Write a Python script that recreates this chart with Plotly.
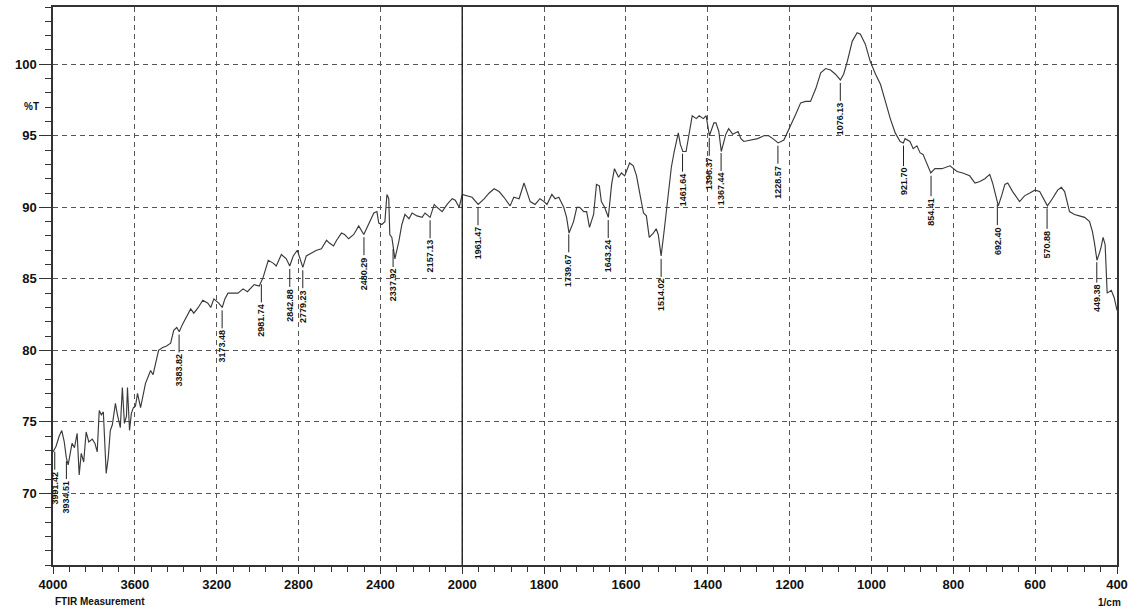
import numpy as np
import plotly.graph_objects as go

# ---- data (wavenumber 1/cm, transmittance %T) ----
wavenumber = [
    4000, 3985, 3970, 3957, 3945, 3935, 3926, 3915, 3907, 3895, 3882, 3872, 3862, 3850, 3838, 3825,
    3808, 3795, 3784, 3774, 3764, 3754, 3745, 3740, 3730, 3720, 3710, 3695, 3685, 3671, 3661, 3651,
    3641, 3636, 3626, 3617, 3607, 3597, 3587, 3572, 3548, 3535, 3523, 3511, 3499, 3484, 3464, 3445,
    3425, 3410, 3395, 3383, 3368, 3351, 3327, 3312, 3290, 3268, 3243, 3229, 3214, 3190, 3173, 3160,
    3145, 3120, 3096, 3071, 3050, 3017, 2992, 2973, 2948, 2924, 2909, 2884, 2860, 2843, 2826, 2806,
    2791, 2779, 2762, 2737, 2712, 2688, 2663, 2649, 2629, 2614, 2590, 2575, 2555, 2530, 2506, 2481,
    2457, 2432, 2417, 2408, 2393, 2378, 2368, 2359, 2354, 2344, 2338, 2329, 2310, 2295, 2280, 2260,
    2245, 2221, 2196, 2182, 2157, 2137, 2123, 2098, 2074, 2049, 2034, 2015, 2000,
    1988, 1976, 1961, 1946, 1934, 1922, 1910, 1898, 1883, 1874, 1861, 1849, 1842, 1834, 1822, 1810,
    1800, 1793, 1781, 1773, 1764, 1752, 1745, 1739, 1728, 1720, 1713, 1703, 1696, 1689, 1679, 1672,
    1665, 1660, 1652, 1643, 1635, 1628, 1618, 1611, 1603, 1591, 1582, 1574, 1567, 1557, 1550, 1543,
    1533, 1526, 1521, 1514, 1506, 1497, 1489, 1482, 1472, 1467, 1461, 1453, 1445, 1438, 1428, 1421,
    1411, 1404, 1396, 1385, 1380, 1373, 1367, 1356, 1349, 1339, 1326, 1319, 1312, 1295, 1278, 1263,
    1251, 1241, 1228, 1214, 1197, 1185, 1173, 1161, 1149, 1136, 1124, 1112, 1100, 1088, 1076, 1068,
    1059, 1047, 1035, 1027, 1015, 1003, 990, 978, 966, 954, 942, 930, 922, 918, 906, 898,
    889, 881, 874, 864, 855, 845, 828, 808, 791, 777, 760, 747, 735, 723, 711, 704,
    694, 690, 681, 674, 667, 655, 638, 626, 613, 601, 589, 577, 570, 558, 545, 536,
    528, 516, 504, 492, 479, 467, 460, 455, 449, 443, 439, 434, 429, 424, 414, 407,
    402, 400,
]
transmittance = [
    72.9, 73.3, 74.0, 74.4, 73.6, 72.5, 72.0, 72.9, 73.5, 73.2, 74.2, 71.3, 72.8, 72.2, 74.3, 73.6,
    73.8, 73.5, 72.9, 75.8, 75.5, 75.7, 73.0, 71.4, 72.5, 74.4, 74.8, 76.3, 75.5, 74.6, 77.4, 74.9,
    75.4, 77.4, 74.4, 75.6, 76.0, 76.1, 77.0, 76.0, 77.7, 78.2, 78.6, 78.3, 79.1, 80.0, 80.2, 80.3,
    80.5, 81.4, 81.6, 81.3, 81.8, 82.3, 82.9, 82.6, 83.0, 83.5, 83.3, 83.0, 83.6, 83.3, 83.0, 83.6,
    84.0, 84.0, 84.0, 84.3, 84.1, 84.6, 84.5, 85.1, 86.3, 86.1, 85.9, 86.7, 86.4, 85.9, 86.6, 87.0,
    86.4, 85.8, 86.6, 86.8, 87.0, 87.1, 87.7, 87.5, 87.3, 87.7, 88.2, 88.1, 87.8, 88.1, 88.7, 88.1,
    88.8, 89.6, 89.7, 88.9, 88.8, 89.0, 90.9, 90.6, 88.1, 87.9, 87.3, 86.4, 87.6, 88.8, 89.5, 89.2,
    89.6, 89.4, 89.3, 89.6, 89.3, 90.2, 90.0, 89.7, 90.2, 90.6, 90.5, 90.0, 90.9,
    90.8, 90.7, 90.2, 90.6, 91.0, 91.3, 91.1, 90.7, 90.1, 90.7, 90.6, 91.7, 91.1, 90.4, 90.2, 90.6,
    90.4, 90.2, 90.9, 90.6, 90.7, 90.0, 89.3, 88.2, 89.0, 90.0, 90.0, 89.7, 89.7, 88.6, 89.5, 91.6,
    91.5, 90.4, 90.0, 89.3, 91.6, 92.7, 92.1, 92.4, 92.2, 93.1, 92.9, 92.2, 91.1, 89.6, 89.4, 87.9,
    88.2, 88.5, 88.1, 86.6, 88.5, 90.7, 92.8, 93.9, 95.2, 94.4, 93.9, 93.9, 95.3, 96.4, 96.2, 96.4,
    96.2, 96.4, 95.0, 95.9, 95.9, 95.3, 93.9, 95.1, 95.5, 95.1, 95.3, 94.8, 94.6, 94.7, 94.8, 95.0,
    95.0, 94.8, 94.5, 94.7, 95.7, 96.5, 97.3, 97.4, 97.4, 98.3, 99.4, 99.7, 99.6, 99.3, 98.9, 99.3,
    100.2, 101.6, 102.2, 102.1, 101.4, 100.2, 99.3, 98.6, 97.4, 96.2, 95.2, 94.6, 94.5, 94.8, 94.6, 94.1,
    94.3, 93.8, 93.7, 93.0, 92.4, 92.7, 92.7, 92.9, 92.5, 92.4, 92.2, 91.7, 91.8, 92.0, 92.3, 91.7,
    90.6, 90.1, 90.9, 91.6, 91.7, 91.1, 90.4, 90.8, 91.0, 91.2, 91.1, 90.4, 90.1, 90.6, 91.2, 91.4,
    91.1, 89.7, 89.5, 89.4, 89.3, 89.0, 88.3, 87.5, 86.3, 86.8, 87.2, 87.9, 87.4, 84.0, 84.2, 83.7,
    83.0, 82.8,
]

peak_labels = ["3991.42", "3934.51", "3383.82", "3173.48", "2981.74", "2842.88", "2779.23",
               "2480.29", "2337.92", "2157.13", "1961.47", "1739.67", "1643.24", "1514.02",
               "1461.64", "1396.37", "1367.44", "1228.57", "1076.13", "921.70", "854.41",
               "692.40", "570.88", "449.38"]

x_tick_labels = ["4000", "3600", "3200", "2800", "2400", "2000", "1800", "1600", "1400",
                 "1200", "1000", "800", "600", "400"]
y_tick_values = [70, 75, 80, 85, 90, 95, 100]


# Instrument axis: 4000-2000 compressed by 2 relative to 2000-400
def axis_pos(wn):
    wn = np.asarray(wn, dtype=float)
    return np.where(wn >= 2000, (4000 - wn) / 2.0, 1000 + (2000 - wn))


u = axis_pos(wavenumber)
T = np.array(transmittance)

fig = go.Figure()
fig.add_trace(go.Scatter(x=u, y=T, mode="lines",
                         line=dict(color="#3a3a3a", width=1.15), hoverinfo="skip",
                         showlegend=False))

font_b = "Liberation Sans"
annotations = []
for lab in peak_labels:
    pu = float(axis_pos(float(lab)))
    py = float(np.interp(pu, u, T))
    annotations.append(dict(
        x=pu, y=py, xref="x", yref="y", text="<b>%s</b>" % lab,
        showarrow=True, arrowhead=0, arrowwidth=1, arrowcolor="#222",
        ax=0, ay=39, standoff=3, textangle=-90,
        font=dict(family=font_b, size=9, color="#111")))

annotations += [
    dict(x=-0.029, y=0.836, xref="paper", yref="paper", text="<b>%T</b>",
         showarrow=False, font=dict(family=font_b, size=10, color="#111")),
    dict(x=0.0, y=-0.066, xref="paper", yref="paper", text="<b>FTIR Measurement</b>",
         xanchor="left", yanchor="middle", showarrow=False,
         font=dict(family=font_b, size=10, color="#111")),
    dict(x=0.993, y=-0.068, xref="paper", yref="paper", text="<b>1/cm</b>",
         xanchor="center", yanchor="middle", showarrow=False,
         font=dict(family=font_b, size=10, color="#111")),
]

fig.add_shape(type="line", xref="x", yref="paper", x0=1000, x1=1000, y0=0, y1=1,
              line=dict(color="#222", width=1.4))

tick_u = axis_pos([float(t) for t in x_tick_labels]).tolist()

fig.update_layout(
    width=1133, height=611,
    margin=dict(l=53, r=13, t=5, b=46),
    paper_bgcolor="white", plot_bgcolor="white",
    annotations=annotations,
    font=dict(family=font_b, color="#111"),
    xaxis=dict(
        range=[0, 2600], tickmode="array", tickvals=tick_u,
        ticktext=["<b>%s</b>" % t for t in x_tick_labels],
        tickfont=dict(size=13, family=font_b, color="#111"),
        ticks="outside", ticklen=7, tickcolor="#333",
        showline=True, linecolor="#333", linewidth=1.5, mirror=True,
        showgrid=True, gridcolor="#555", gridwidth=1, griddash="5px,4px",
        zeroline=False,
        minor=dict(tick0=0, dtick=40, ticks="outside", ticklen=5, tickcolor="#333",
                   showgrid=False),
    ),
    yaxis=dict(
        range=[65, 104], tickmode="array", tickvals=y_tick_values,
        ticktext=["<b>%d</b>" % v for v in y_tick_values],
        tickfont=dict(size=13, family=font_b, color="#111"),
        ticks="outside", ticklen=12, tickcolor="#333",
        showline=True, linecolor="#333", linewidth=1.5, mirror=True,
        showgrid=True, gridcolor="#555", gridwidth=1, griddash="5px,4px",
        zeroline=False,
        minor=dict(tick0=0, dtick=1, ticks="outside", ticklen=6, tickcolor="#333",
                   showgrid=False),
    ),
)

fig.write_html("out.html", config={"displayModeBar": False},
               post_script="document.body.style.margin='0';document.body.style.padding='0';")
